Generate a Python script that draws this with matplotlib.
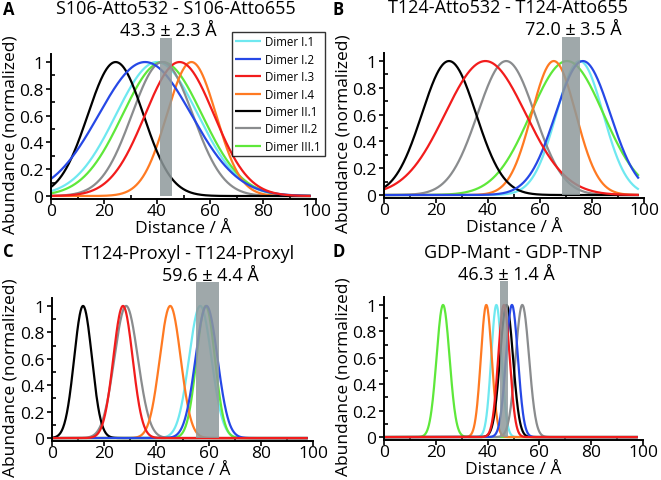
import numpy as np
import matplotlib
matplotlib.use("Agg")
import matplotlib.pyplot as plt
from matplotlib.ticker import MultipleLocator

plt.rcParams['font.family'] = ['Open Sans', 'DejaVu Sans']

# Series (legend order)
series_names = ["Dimer I.1", "Dimer I.2", "Dimer I.3", "Dimer I.4",
                "Dimer II.1", "Dimer II.2", "Dimer III.1"]
series_colors = ["#6fe8f0", "#2648e6", "#f21c1c", "#ff7a22",
                 "#000000", "#8a8c8e", "#5ee83a"]

# Panel titles / measured distances (mean, sd)
panel_letters = ["A", "B", "C", "D"]
panel_titles = ["S106-Atto532 - S106-Atto655", "T124-Atto532 - T124-Atto655",
                "T124-Proxyl - T124-Proxyl", "GDP-Mant - GDP-TNP"]
measured_mean = [43.3, 72.0, 59.6, 46.3]
measured_sd = [2.3, 3.5, 4.4, 1.4]

# Distance distribution peak centres (Å), order as series_names
centers_A = [40.0, 35.5, 48.5, 53.0, 24.4, 42.0, 42.0]
centers_B = [75.3, 76.5, 39.0, 65.3, 25.0, 47.0, 70.4]
centers_C = [56.8, 59.2, 27.2, 45.3, 11.9, 28.4, 58.9]
centers_D = [43.4, 49.4, 46.3, 39.5, 47.3, 53.4, 22.8]
# Distribution widths (sd, Å)
widths_A = [15.5, 17.5, 13.0, 9.3, 10.5, 11.5, 15.0]
widths_B = [9.0, 10.5, 15.5, 8.5, 10.4, 11.0, 14.0]
widths_C = [4.3, 4.2, 3.7, 4.0, 3.4, 4.5, 3.5]
widths_D = [2.0, 2.3, 2.2, 2.1, 2.5, 2.6, 2.5]

centers = [centers_A, centers_B, centers_C, centers_D]
widths = [widths_A, widths_B, widths_C, widths_D]

x_ticks = [0, 20, 40, 60, 80, 100]
y_ticks = [0, 0.2, 0.4, 0.6, 0.8, 1.0]
y_tick_labels = ["0", "0.2", "0.4", "0.6", "0.8", "1"]

W, H = 661, 481
fig = plt.figure(figsize=(W / 100, H / 100), dpi=100)

# axes pixel boxes: left, right, top, bottom
boxes = [(51, 316, 55, 199.7), (384, 644, 54, 198.7),
         (52, 313, 299, 441.7), (384, 643, 298, 440.7)]
letter_pos = [(3, 10), (333, 10), (3, 252), (333, 252)]
ylabel_right = [19, 352, 19, 352]   # pixel x of the ylabel's right edge
title_x = [47, 47.5, 52, 50]

draw_order = [0, 6, 5, 3, 4, 1, 2]
dist = np.linspace(0, 98, 600)
FS = 13

for p in range(4):
    l, r, t, b = boxes[p]
    ax = fig.add_axes([l / W, 1 - b / H, (r - l) / W, (b - t) / H])
    lines = {}
    for i in draw_order:
        yv = np.exp(-(dist - centers[p][i]) ** 2 / (2 * widths[p][i] ** 2))
        ln, = ax.plot(dist, yv, color=series_colors[i], lw=1.6,
                      label=series_names[i], zorder=2, solid_capstyle='butt')
        lines[i] = ln
    m, s = measured_mean[p], measured_sd[p]
    ax.fill_between([m - s, m + s], 0, 1.18, color="#8e999b", alpha=0.85,
                    lw=0, zorder=3, clip_on=False)
    ax.text(m + 1.0, 1.20, f"{m:.1f} ± {s:.1f} Å", ha='center', va='baseline',
            fontsize=FS, clip_on=False)
    ax.text(title_x[p], 1.40, panel_titles[p], ha='center',
            va='center', fontsize=FS, clip_on=False)
    ax.set_xlim(0, 100)
    ax.set_ylim(-0.02, 1.06)
    ax.set_xticks(x_ticks)
    ax.set_yticks(y_ticks)
    ax.set_yticklabels(y_tick_labels)
    ax.xaxis.set_minor_locator(MultipleLocator(10))
    ax.yaxis.set_minor_locator(MultipleLocator(0.1))
    for sp in ['top', 'right']:
        ax.spines[sp].set_visible(False)
    for sp in ['left', 'bottom']:
        ax.spines[sp].set_linewidth(1.4)
    ax.tick_params(which='major', direction='out', length=3.5, width=1.2,
                   labelsize=12.5, pad=-0.5)
    ax.tick_params(axis='y', which='major', pad=2)
    ax.tick_params(which='minor', direction='in', length=3, width=1.2)
    ax.set_xlabel("Distance / Å", fontsize=12.5)
    ax.xaxis.set_label_coords(0.5, -21.5 / (b - t))
    ax.set_ylabel("Abundance (normalized)", fontsize=12.5)
    ax.yaxis.set_label_coords((ylabel_right[p] - l) / (r - l), 0.45)
    lx, ly = letter_pos[p]
    fig.text(lx / W, 1 - ly / H, panel_letters[p], fontsize=12,
             fontweight='bold', ha='left', va='center')
    if p == 0:
        handles = [lines[i] for i in range(7)]
        leg = fig.legend(handles, series_names, loc='upper left',
                         bbox_to_anchor=(232 / W, 1 - 33 / H),
                         fontsize=8.3, frameon=True, fancybox=False,
                         handlelength=2.2, handletextpad=0.4,
                         borderpad=0.3, labelspacing=0.38, borderaxespad=0)
        leg.get_frame().set_edgecolor('black')
        leg.get_frame().set_linewidth(1.0)

fig.savefig("out.png", dpi=100)
